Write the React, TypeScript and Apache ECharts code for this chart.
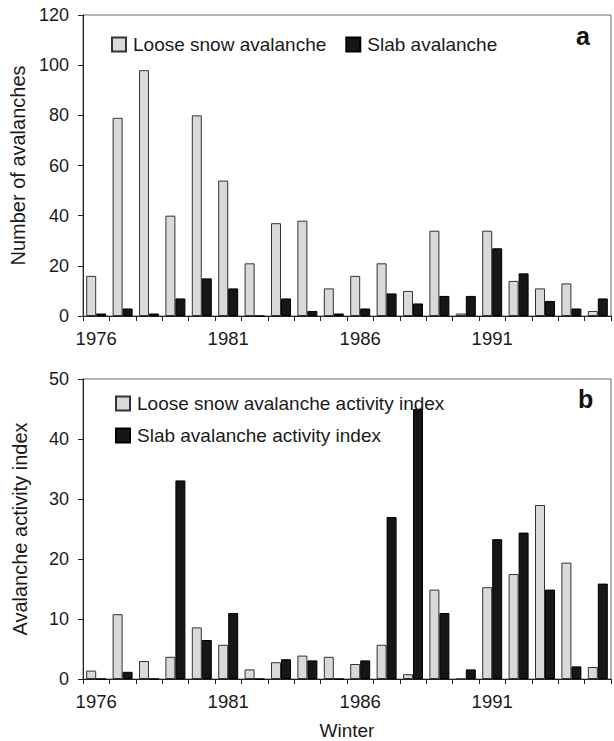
import React, { useEffect, useRef } from "react";
import * as echarts from "echarts";

const years = ["1976","1977","1978","1979","1980","1981","1982","1983","1984","1985","1986","1987","1988","1989","1990","1991","1992","1993","1994","1995"];
const looseCount = [16, 79, 98, 40, 80, 54, 21, 37, 38, 11, 16, 21, 10, 34, 1, 34, 14, 11, 13, 2];
const slabCount = [1, 3, 1, 7, 15, 11, 0, 7, 2, 1, 3, 9, 5, 8, 8, 27, 17, 6, 3, 7];
const looseIndex = [1.4, 10.8, 3.0, 3.7, 8.6, 5.7, 1.6, 2.8, 3.9, 3.7, 2.5, 5.7, 0.8, 14.9, 0, 15.3, 17.5, 29.0, 19.4, 2.0];
const slabIndex = [0, 1.2, 0, 33.1, 6.5, 11.0, 0, 3.3, 3.1, 0, 3.1, 27.0, 45.0, 11.0, 1.6, 23.3, 24.4, 14.9, 2.1, 15.9];

const FONT = "'Liberation Sans', Arial, Helvetica, sans-serif";
const TXT = "#1a1a1a";
const GRAY = "#d9d9d9";
const BLACK = "#161616";

export default function App() {
  const ref = useRef<HTMLDivElement>(null);
  useEffect(() => {
    if (!ref.current) return;
    const chart = echarts.init(ref.current, undefined, { renderer: "svg" });
    const xAxisBase = (gridIndex: number, extra: any = {}) => ({
      type: "category",
      gridIndex,
      data: years,
      boundaryGap: true,
      axisLine: { lineStyle: { color: "#222", width: 1 } },
      axisTick: { show: true, interval: 0, length: 5, alignWithLabel: false, lineStyle: { color: "#222" } },
      axisLabel: { interval: 4, fontSize: 18.5, color: TXT, fontFamily: FONT, margin: 13 },
      splitLine: { show: false },
      ...extra,
    });
    const yAxisBase = (gridIndex: number, max: number, interval: number, name: string) => ({
      type: "value",
      gridIndex,
      min: 0,
      max,
      interval,
      name,
      nameLocation: "middle",
      nameRotate: 90,
      nameGap: 53,
      nameTextStyle: { fontSize: 20, color: TXT, fontFamily: FONT },
      axisLine: { show: true, lineStyle: { color: "#222", width: 1 } },
      axisTick: { show: true, length: 5, lineStyle: { color: "#222" } },
      axisLabel: { fontSize: 18, color: TXT, fontFamily: FONT, margin: 14 },
      splitLine: { show: false },
    });
    const grayStyle = { color: GRAY, borderColor: "#333", borderWidth: 1 };
    const blackStyle = { color: BLACK, borderColor: "#000", borderWidth: 1 };
    chart.setOption({
      animation: false,
      backgroundColor: "#fff",
      textStyle: { fontFamily: FONT },
      grid: [
        { left: 83, top: 15, width: 528, height: 301, show: true, borderColor: "#666", borderWidth: 1, backgroundColor: "transparent" },
        { left: 83, top: 379, width: 528, height: 300, show: true, borderColor: "#666", borderWidth: 1, backgroundColor: "transparent" },
      ],
      xAxis: [
        xAxisBase(0),
        xAxisBase(1, {
          name: "Winter",
          nameLocation: "middle",
          nameGap: 42,
          nameTextStyle: { fontSize: 19, color: TXT, fontFamily: FONT },
        }),
      ],
      yAxis: [
        yAxisBase(0, 120, 20, "Number of avalanches"),
        yAxisBase(1, 50, 10, "Avalanche activity index"),
      ],
      legend: [
        {
          data: ["Loose snow avalanche", "Slab avalanche"],
          left: 106,
          top: 30,
          orient: "horizontal",
          icon: "rect",
          itemWidth: 14,
          itemHeight: 14,
          itemGap: 19,
          textStyle: { fontSize: 19, color: TXT, fontFamily: FONT, padding: [0, 0, 0, 2] },
        },
        {
          data: ["Loose snow avalanche activity index", "Slab avalanche activity index"],
          left: 110,
          top: 389,
          orient: "vertical",
          icon: "rect",
          itemWidth: 14,
          itemHeight: 14,
          itemGap: 13,
          textStyle: { fontSize: 19, color: TXT, fontFamily: FONT, padding: [0, 0, 0, 2] },
        },
      ],
      graphic: [
        { type: "text", x: 576, y: 36, style: { text: "a", fontSize: 25, fontWeight: "bold", fill: "#111", fontFamily: FONT, verticalAlign: "middle" } },
        { type: "text", x: 578, y: 399, style: { text: "b", fontSize: 25, fontWeight: "bold", fill: "#111", fontFamily: FONT, verticalAlign: "middle" } },
      ],
      series: [
        { name: "Loose snow avalanche", type: "bar", xAxisIndex: 0, yAxisIndex: 0, data: looseCount, barWidth: 10, barGap: "0%", itemStyle: grayStyle },
        { name: "Slab avalanche", type: "bar", xAxisIndex: 0, yAxisIndex: 0, data: slabCount, barWidth: 10, barGap: "0%", itemStyle: blackStyle },
        { name: "Loose snow avalanche activity index", type: "bar", xAxisIndex: 1, yAxisIndex: 1, data: looseIndex, barWidth: 10, barGap: "0%", itemStyle: grayStyle },
        { name: "Slab avalanche activity index", type: "bar", xAxisIndex: 1, yAxisIndex: 1, data: slabIndex, barWidth: 10, barGap: "0%", itemStyle: blackStyle },
      ],
    });
    return () => chart.dispose();
  }, []);
  return <div ref={ref} style={{ width: 614, height: 741, position: "absolute", left: 0, top: 0 }} />;
}
